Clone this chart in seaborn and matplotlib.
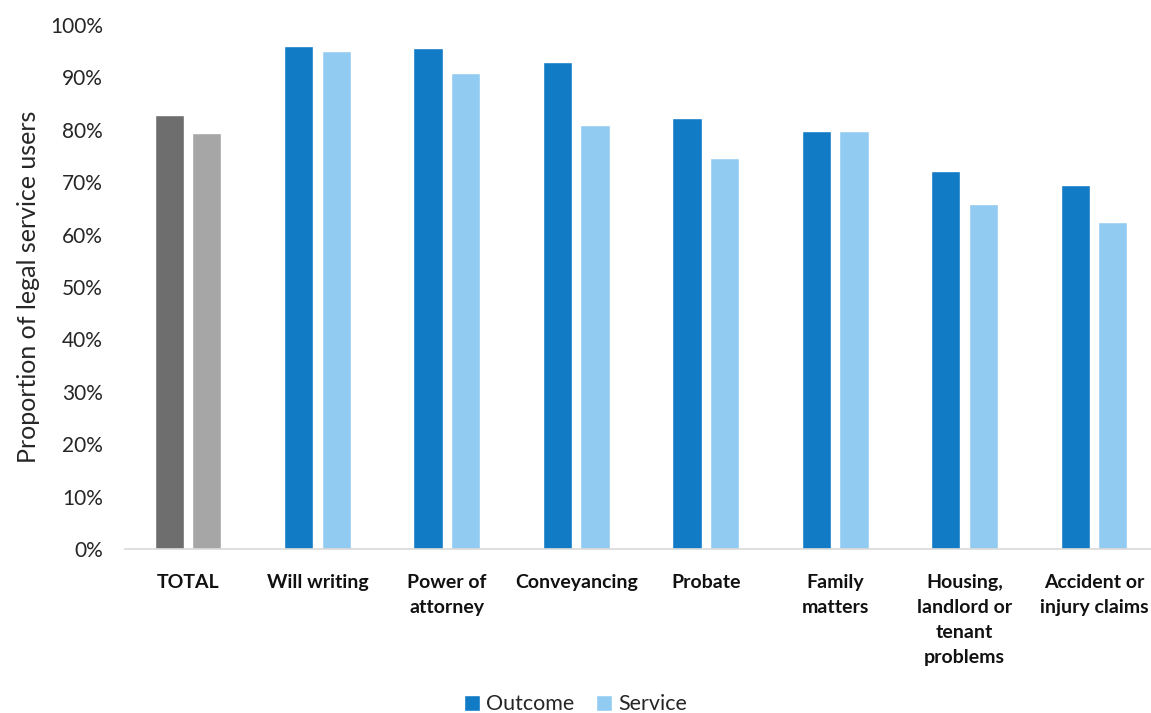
import matplotlib
matplotlib.use("Agg")
import matplotlib.pyplot as plt
from matplotlib.patches import Patch
import seaborn as sns
import pandas as pd
import numpy as np

categories = ["TOTAL", "Will writing", "Power of\nattorney", "Conveyancing", "Probate",
              "Family\nmatters", "Housing,\nlandlord or\ntenant\nproblems", "Accident or\ninjury claims"]
outcome = [0.828, 0.959, 0.956, 0.930, 0.823, 0.797, 0.721, 0.695]
service = [0.794, 0.951, 0.909, 0.809, 0.747, 0.797, 0.659, 0.624]
series = ["Outcome", "Service"]
yticks = np.arange(0, 1.01, 0.1)

df = pd.DataFrame({
    "category": categories * 2,
    "series": ["Outcome"] * len(categories) + ["Service"] * len(categories),
    "value": outcome + service,
})

sns.set_theme(style="white")
plt.rcParams["font.family"] = ["Lato", "DejaVu Sans"]

blue_dark = "#127bc6"
blue_light = "#92cbf1"
grey_dark = "#6e6e6e"
grey_light = "#a6a6a6"
text_col = "#262626"

fig = plt.figure(figsize=(11.51, 7.13), dpi=100)
ax = fig.add_axes([0.1086, 0.23, 0.8914, 0.735])

sns.barplot(data=df, x="category", y="value", hue="series", order=categories,
            hue_order=series, palette=[blue_dark, blue_light], width=0.58, gap=0.22,
            legend=False, ax=ax, saturation=1)

# recolor TOTAL bars in grey
for p in ax.patches:
    cx = p.get_x() + p.get_width() / 2
    if abs(cx) < 0.5:
        p.set_facecolor(grey_dark if cx < 0 else grey_light)

ax.set_ylim(0, 1)
ax.set_xlim(-0.487, 7.44)
ax.set_yticks(yticks)
ax.set_yticklabels([f"{int(round(t*100))}%" for t in yticks], fontsize=15, color=text_col)
ax.set_xticks(range(len(categories)))
ax.set_xticklabels(categories, fontsize=14, fontweight="bold", color="#111111",
                   linespacing=1.58, va="top")
ax.tick_params(axis="x", length=0, pad=18)
ax.tick_params(axis="y", length=0, pad=16)
ax.set_xlabel("")
ax.set_ylabel("Proportion of legal service users", fontsize=18, color=text_col, labelpad=7)

for s in ["top", "right", "left"]:
    ax.spines[s].set_visible(False)
ax.spines["bottom"].set_color("#d9d9d9")
ax.spines["bottom"].set_linewidth(1.2)

handles = [Patch(facecolor=blue_dark, label="Outcome"), Patch(facecolor=blue_light, label="Service")]
fig.legend(handles=handles, loc="center", bbox_to_anchor=(0.5, 0.012), ncol=2, frameon=False,
           fontsize=15.5, handlelength=0.75, handleheight=0.75, handletextpad=0.3, columnspacing=1.0,
           labelcolor=text_col)

fig.savefig("out.png", dpi=100)
